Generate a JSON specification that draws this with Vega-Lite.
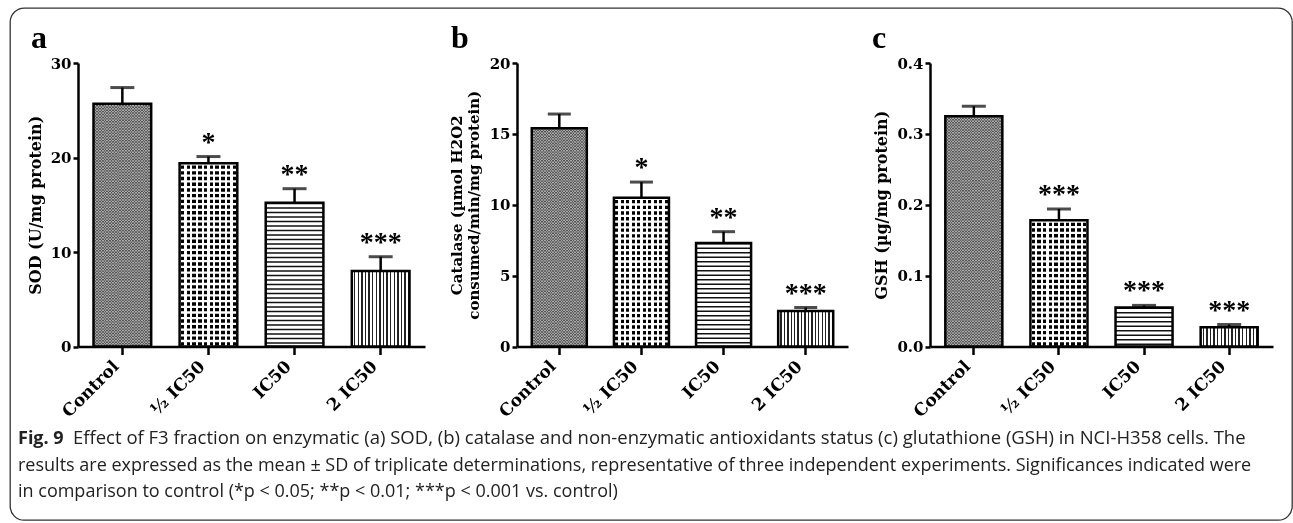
{
  "$schema": "https://vega.github.io/schema/vega-lite/v6.json",
  "width": 1282,
  "height": 512,
  "autosize": {"type": "none"},
  "padding": {"left": 10, "top": 8, "right": 1, "bottom": 3},
  "background": "white",
  "datasets": {
    "bars": [
      {"panel": "a", "grp": "Control", "mean": 25.7, "upper": 27.4, "sig": ""},
      {"panel": "a", "grp": "½ IC50", "mean": 19.4, "upper": 20.1, "sig": "*"},
      {"panel": "a", "grp": "IC50", "mean": 15.2, "upper": 16.7, "sig": "**"},
      {"panel": "a", "grp": "2 IC50", "mean": 8.0, "upper": 9.5, "sig": "***"},
      {"panel": "b", "grp": "Control", "mean": 15.4, "upper": 16.4, "sig": ""},
      {"panel": "b", "grp": "½ IC50", "mean": 10.5, "upper": 11.6, "sig": "*"},
      {"panel": "b", "grp": "IC50", "mean": 7.3, "upper": 8.1, "sig": "**"},
      {"panel": "b", "grp": "2 IC50", "mean": 2.5, "upper": 2.75, "sig": "***"},
      {"panel": "c", "grp": "Control", "mean": 0.325, "upper": 0.339, "sig": ""},
      {"panel": "c", "grp": "½ IC50", "mean": 0.178, "upper": 0.194, "sig": "***"},
      {"panel": "c", "grp": "IC50", "mean": 0.055, "upper": 0.058, "sig": "***"},
      {"panel": "c", "grp": "2 IC50", "mean": 0.027, "upper": 0.031, "sig": "***"}
    ]
  },
  "resolve": {
    "scale": {"x": "independent", "y": "independent"},
    "axis": {"x": "independent", "y": "independent"}
  },
  "layer": [
    {
      "data": {"name": "bars"},
      "transform": [{"filter": "datum.panel === 'a'"}],
      "encoding": {
        "x": {"field": "grp", "type": "nominal", "scale": {"type": "band", "domain": ["Control", "½ IC50", "IC50", "2 IC50"], "range": [68, 415], "paddingInner": 0.33, "paddingOuter": 0.18}, "axis": {"orient": "bottom", "offset": -173.5, "title": null}},
        "y": {"field": "mean", "type": "quantitative", "scale": {"domain": [0, 30], "range": [338.5, 55], "nice": false}, "axis": {"orient": "left", "offset": -68, "values": [0, 10, 20, 30], "title": "SOD (U/mg protein)", "titlePadding": 7}}
      },
      "layer": [
        {"transform": [{"filter": "datum.grp === 'Control'"}], "mark": {"type": "bar", "fill": {"gradient": "linear", "x1": 0, "y1": 0, "x2": 1, "y2": 0, "stops": [
          {"offset": 0, "color": "#555"}, {"offset": 0.025, "color": "#555"}, {"offset": 0.025, "color": "#aaa"}, {"offset": 0.05, "color": "#aaa"},
          {"offset": 0.05, "color": "#555"}, {"offset": 0.075, "color": "#555"}, {"offset": 0.075, "color": "#aaa"}, {"offset": 0.1, "color": "#aaa"},
          {"offset": 0.1, "color": "#555"}, {"offset": 0.125, "color": "#555"}, {"offset": 0.125, "color": "#aaa"}, {"offset": 0.15, "color": "#aaa"},
          {"offset": 0.15, "color": "#555"}, {"offset": 0.175, "color": "#555"}, {"offset": 0.175, "color": "#aaa"}, {"offset": 0.2, "color": "#aaa"},
          {"offset": 0.2, "color": "#555"}, {"offset": 0.225, "color": "#555"}, {"offset": 0.225, "color": "#aaa"}, {"offset": 0.25, "color": "#aaa"},
          {"offset": 0.25, "color": "#555"}, {"offset": 0.275, "color": "#555"}, {"offset": 0.275, "color": "#aaa"}, {"offset": 0.3, "color": "#aaa"},
          {"offset": 0.3, "color": "#555"}, {"offset": 0.325, "color": "#555"}, {"offset": 0.325, "color": "#aaa"}, {"offset": 0.35, "color": "#aaa"},
          {"offset": 0.35, "color": "#555"}, {"offset": 0.375, "color": "#555"}, {"offset": 0.375, "color": "#aaa"}, {"offset": 0.4, "color": "#aaa"},
          {"offset": 0.4, "color": "#555"}, {"offset": 0.425, "color": "#555"}, {"offset": 0.425, "color": "#aaa"}, {"offset": 0.45, "color": "#aaa"},
          {"offset": 0.45, "color": "#555"}, {"offset": 0.475, "color": "#555"}, {"offset": 0.475, "color": "#aaa"}, {"offset": 0.5, "color": "#aaa"},
          {"offset": 0.5, "color": "#555"}, {"offset": 0.525, "color": "#555"}, {"offset": 0.525, "color": "#aaa"}, {"offset": 0.55, "color": "#aaa"},
          {"offset": 0.55, "color": "#555"}, {"offset": 0.575, "color": "#555"}, {"offset": 0.575, "color": "#aaa"}, {"offset": 0.6, "color": "#aaa"},
          {"offset": 0.6, "color": "#555"}, {"offset": 0.625, "color": "#555"}, {"offset": 0.625, "color": "#aaa"}, {"offset": 0.65, "color": "#aaa"},
          {"offset": 0.65, "color": "#555"}, {"offset": 0.675, "color": "#555"}, {"offset": 0.675, "color": "#aaa"}, {"offset": 0.7, "color": "#aaa"},
          {"offset": 0.7, "color": "#555"}, {"offset": 0.725, "color": "#555"}, {"offset": 0.725, "color": "#aaa"}, {"offset": 0.75, "color": "#aaa"},
          {"offset": 0.75, "color": "#555"}, {"offset": 0.775, "color": "#555"}, {"offset": 0.775, "color": "#aaa"}, {"offset": 0.8, "color": "#aaa"},
          {"offset": 0.8, "color": "#555"}, {"offset": 0.825, "color": "#555"}, {"offset": 0.825, "color": "#aaa"}, {"offset": 0.85, "color": "#aaa"},
          {"offset": 0.85, "color": "#555"}, {"offset": 0.875, "color": "#555"}, {"offset": 0.875, "color": "#aaa"}, {"offset": 0.9, "color": "#aaa"},
          {"offset": 0.9, "color": "#555"}, {"offset": 0.925, "color": "#555"}, {"offset": 0.925, "color": "#aaa"}, {"offset": 0.95, "color": "#aaa"},
          {"offset": 0.95, "color": "#555"}, {"offset": 0.975, "color": "#555"}, {"offset": 0.975, "color": "#aaa"}, {"offset": 1, "color": "#aaa"}
        ]}}},
        {"transform": [{"filter": "datum.grp === 'Control'"}], "mark": {"type": "rule", "stroke": "#fff", "strokeWidth": 57, "strokeDash": [1.45, 1.45], "blend": "difference"}, "encoding": {"y2": {"datum": 0}}},
        {"transform": [{"filter": "datum.grp === '½ IC50'"}], "mark": {"type": "bar", "fill": {"gradient": "linear", "x1": 0, "y1": 0, "x2": 1, "y2": 0, "stops": [
          {"offset": 0, "color": "#fff"}, {"offset": 0.02, "color": "#fff"}, {"offset": 0.02, "color": "#000"}, {"offset": 0.08, "color": "#000"},
          {"offset": 0.08, "color": "#fff"}, {"offset": 0.12, "color": "#fff"}, {"offset": 0.12, "color": "#000"}, {"offset": 0.18, "color": "#000"},
          {"offset": 0.18, "color": "#fff"}, {"offset": 0.22, "color": "#fff"}, {"offset": 0.22, "color": "#000"}, {"offset": 0.28, "color": "#000"},
          {"offset": 0.28, "color": "#fff"}, {"offset": 0.32, "color": "#fff"}, {"offset": 0.32, "color": "#000"}, {"offset": 0.38, "color": "#000"},
          {"offset": 0.38, "color": "#fff"}, {"offset": 0.42, "color": "#fff"}, {"offset": 0.42, "color": "#000"}, {"offset": 0.48, "color": "#000"},
          {"offset": 0.48, "color": "#fff"}, {"offset": 0.52, "color": "#fff"}, {"offset": 0.52, "color": "#000"}, {"offset": 0.58, "color": "#000"},
          {"offset": 0.58, "color": "#fff"}, {"offset": 0.62, "color": "#fff"}, {"offset": 0.62, "color": "#000"}, {"offset": 0.68, "color": "#000"},
          {"offset": 0.68, "color": "#fff"}, {"offset": 0.72, "color": "#fff"}, {"offset": 0.72, "color": "#000"}, {"offset": 0.78, "color": "#000"},
          {"offset": 0.78, "color": "#fff"}, {"offset": 0.82, "color": "#fff"}, {"offset": 0.82, "color": "#000"}, {"offset": 0.88, "color": "#000"},
          {"offset": 0.88, "color": "#fff"}, {"offset": 0.92, "color": "#fff"}, {"offset": 0.92, "color": "#000"}, {"offset": 0.98, "color": "#000"},
          {"offset": 0.98, "color": "#fff"}, {"offset": 1, "color": "#fff"}
        ]}}},
        {"transform": [{"filter": "datum.grp === '½ IC50'"}], "mark": {"type": "rule", "stroke": "#fff", "strokeWidth": 57, "strokeDash": [2.3, 3.4]}, "encoding": {"y2": {"datum": 0}}},
        {"transform": [{"filter": "datum.grp === 'IC50'"}], "mark": {"type": "rule", "stroke": "#111", "strokeWidth": 57, "strokeDash": [1.5, 3]}, "encoding": {"y2": {"datum": 0}}},
        {"transform": [{"filter": "datum.grp === '2 IC50'"}], "mark": {"type": "bar", "fill": {"gradient": "linear", "x1": 0, "y1": 0, "x2": 1, "y2": 0, "stops": [
          {"offset": 0, "color": "#fff"}, {"offset": 0.0375, "color": "#fff"}, {"offset": 0.0375, "color": "#222"}, {"offset": 0.0625, "color": "#222"},
          {"offset": 0.0625, "color": "#fff"}, {"offset": 0.1, "color": "#fff"}, {"offset": 0.1, "color": "#222"}, {"offset": 0.125, "color": "#222"},
          {"offset": 0.125, "color": "#fff"}, {"offset": 0.1625, "color": "#fff"}, {"offset": 0.1625, "color": "#222"}, {"offset": 0.1875, "color": "#222"},
          {"offset": 0.1875, "color": "#fff"}, {"offset": 0.225, "color": "#fff"}, {"offset": 0.225, "color": "#222"}, {"offset": 0.25, "color": "#222"},
          {"offset": 0.25, "color": "#fff"}, {"offset": 0.2875, "color": "#fff"}, {"offset": 0.2875, "color": "#222"}, {"offset": 0.3125, "color": "#222"},
          {"offset": 0.3125, "color": "#fff"}, {"offset": 0.35, "color": "#fff"}, {"offset": 0.35, "color": "#222"}, {"offset": 0.375, "color": "#222"},
          {"offset": 0.375, "color": "#fff"}, {"offset": 0.4125, "color": "#fff"}, {"offset": 0.4125, "color": "#222"}, {"offset": 0.4375, "color": "#222"},
          {"offset": 0.4375, "color": "#fff"}, {"offset": 0.475, "color": "#fff"}, {"offset": 0.475, "color": "#222"}, {"offset": 0.5, "color": "#222"},
          {"offset": 0.5, "color": "#fff"}, {"offset": 0.5375, "color": "#fff"}, {"offset": 0.5375, "color": "#222"}, {"offset": 0.5625, "color": "#222"},
          {"offset": 0.5625, "color": "#fff"}, {"offset": 0.6, "color": "#fff"}, {"offset": 0.6, "color": "#222"}, {"offset": 0.625, "color": "#222"},
          {"offset": 0.625, "color": "#fff"}, {"offset": 0.6625, "color": "#fff"}, {"offset": 0.6625, "color": "#222"}, {"offset": 0.6875, "color": "#222"},
          {"offset": 0.6875, "color": "#fff"}, {"offset": 0.725, "color": "#fff"}, {"offset": 0.725, "color": "#222"}, {"offset": 0.75, "color": "#222"},
          {"offset": 0.75, "color": "#fff"}, {"offset": 0.7875, "color": "#fff"}, {"offset": 0.7875, "color": "#222"}, {"offset": 0.8125, "color": "#222"},
          {"offset": 0.8125, "color": "#fff"}, {"offset": 0.85, "color": "#fff"}, {"offset": 0.85, "color": "#222"}, {"offset": 0.875, "color": "#222"},
          {"offset": 0.875, "color": "#fff"}, {"offset": 0.9125, "color": "#fff"}, {"offset": 0.9125, "color": "#222"}, {"offset": 0.9375, "color": "#222"},
          {"offset": 0.9375, "color": "#fff"}, {"offset": 0.975, "color": "#fff"}, {"offset": 0.975, "color": "#222"}, {"offset": 1, "color": "#222"}
        ]}}},
        {"mark": {"type": "bar", "filled": false, "stroke": "#000", "strokeWidth": 2.5}},
        {"mark": {"type": "rule", "stroke": "#000", "strokeWidth": 2.5}, "encoding": {"y2": {"field": "upper"}}},
        {"mark": {"type": "tick", "color": "#000", "size": 24, "thickness": 3}, "encoding": {"y": {"field": "upper", "type": "quantitative", "axis": {"orient": "left", "offset": -68, "values": [0, 10, 20, 30], "title": "SOD (U/mg protein)", "titlePadding": 7}}}},
        {"mark": {"type": "text", "font": "Liberation Serif", "fontWeight": "bold", "fontSize": 28, "baseline": "alphabetic", "dy": -6, "color": "#000"}, "encoding": {"y": {"field": "upper", "type": "quantitative", "axis": {"orient": "left", "offset": -68, "values": [0, 10, 20, 30], "title": "SOD (U/mg protein)", "titlePadding": 7}}, "text": {"field": "sig"}}}
      ]
    },
    {
      "data": {"name": "bars"},
      "transform": [{"filter": "datum.panel === 'b'"}],
      "encoding": {
        "x": {"field": "grp", "type": "nominal", "scale": {"type": "band", "domain": ["Control", "½ IC50", "IC50", "2 IC50"], "range": [507, 838], "paddingInner": 0.33, "paddingOuter": 0.18}, "axis": {"orient": "bottom", "offset": -173.5, "title": null}},
        "y": {"field": "mean", "type": "quantitative", "scale": {"domain": [0, 20], "range": [338.5, 55], "nice": false}, "axis": {"orient": "left", "offset": -507, "values": [0, 5, 10, 15, 20], "title": ["Catalase (µmol H2O2", "consumed/min/mg protein)"], "titlePadding": 8, "titleLineHeight": 17, "titleFontSize": 15}}
      },
      "layer": [
        {"transform": [{"filter": "datum.grp === 'Control'"}], "mark": {"type": "bar", "fill": {"gradient": "linear", "x1": 0, "y1": 0, "x2": 1, "y2": 0, "stops": [
          {"offset": 0, "color": "#555"}, {"offset": 0.025, "color": "#555"}, {"offset": 0.025, "color": "#aaa"}, {"offset": 0.05, "color": "#aaa"},
          {"offset": 0.05, "color": "#555"}, {"offset": 0.075, "color": "#555"}, {"offset": 0.075, "color": "#aaa"}, {"offset": 0.1, "color": "#aaa"},
          {"offset": 0.1, "color": "#555"}, {"offset": 0.125, "color": "#555"}, {"offset": 0.125, "color": "#aaa"}, {"offset": 0.15, "color": "#aaa"},
          {"offset": 0.15, "color": "#555"}, {"offset": 0.175, "color": "#555"}, {"offset": 0.175, "color": "#aaa"}, {"offset": 0.2, "color": "#aaa"},
          {"offset": 0.2, "color": "#555"}, {"offset": 0.225, "color": "#555"}, {"offset": 0.225, "color": "#aaa"}, {"offset": 0.25, "color": "#aaa"},
          {"offset": 0.25, "color": "#555"}, {"offset": 0.275, "color": "#555"}, {"offset": 0.275, "color": "#aaa"}, {"offset": 0.3, "color": "#aaa"},
          {"offset": 0.3, "color": "#555"}, {"offset": 0.325, "color": "#555"}, {"offset": 0.325, "color": "#aaa"}, {"offset": 0.35, "color": "#aaa"},
          {"offset": 0.35, "color": "#555"}, {"offset": 0.375, "color": "#555"}, {"offset": 0.375, "color": "#aaa"}, {"offset": 0.4, "color": "#aaa"},
          {"offset": 0.4, "color": "#555"}, {"offset": 0.425, "color": "#555"}, {"offset": 0.425, "color": "#aaa"}, {"offset": 0.45, "color": "#aaa"},
          {"offset": 0.45, "color": "#555"}, {"offset": 0.475, "color": "#555"}, {"offset": 0.475, "color": "#aaa"}, {"offset": 0.5, "color": "#aaa"},
          {"offset": 0.5, "color": "#555"}, {"offset": 0.525, "color": "#555"}, {"offset": 0.525, "color": "#aaa"}, {"offset": 0.55, "color": "#aaa"},
          {"offset": 0.55, "color": "#555"}, {"offset": 0.575, "color": "#555"}, {"offset": 0.575, "color": "#aaa"}, {"offset": 0.6, "color": "#aaa"},
          {"offset": 0.6, "color": "#555"}, {"offset": 0.625, "color": "#555"}, {"offset": 0.625, "color": "#aaa"}, {"offset": 0.65, "color": "#aaa"},
          {"offset": 0.65, "color": "#555"}, {"offset": 0.675, "color": "#555"}, {"offset": 0.675, "color": "#aaa"}, {"offset": 0.7, "color": "#aaa"},
          {"offset": 0.7, "color": "#555"}, {"offset": 0.725, "color": "#555"}, {"offset": 0.725, "color": "#aaa"}, {"offset": 0.75, "color": "#aaa"},
          {"offset": 0.75, "color": "#555"}, {"offset": 0.775, "color": "#555"}, {"offset": 0.775, "color": "#aaa"}, {"offset": 0.8, "color": "#aaa"},
          {"offset": 0.8, "color": "#555"}, {"offset": 0.825, "color": "#555"}, {"offset": 0.825, "color": "#aaa"}, {"offset": 0.85, "color": "#aaa"},
          {"offset": 0.85, "color": "#555"}, {"offset": 0.875, "color": "#555"}, {"offset": 0.875, "color": "#aaa"}, {"offset": 0.9, "color": "#aaa"},
          {"offset": 0.9, "color": "#555"}, {"offset": 0.925, "color": "#555"}, {"offset": 0.925, "color": "#aaa"}, {"offset": 0.95, "color": "#aaa"},
          {"offset": 0.95, "color": "#555"}, {"offset": 0.975, "color": "#555"}, {"offset": 0.975, "color": "#aaa"}, {"offset": 1, "color": "#aaa"}
        ]}}},
        {"transform": [{"filter": "datum.grp === 'Control'"}], "mark": {"type": "rule", "stroke": "#fff", "strokeWidth": 54, "strokeDash": [1.45, 1.45], "blend": "difference"}, "encoding": {"y2": {"datum": 0}}},
        {"transform": [{"filter": "datum.grp === '½ IC50'"}], "mark": {"type": "bar", "fill": {"gradient": "linear", "x1": 0, "y1": 0, "x2": 1, "y2": 0, "stops": [
          {"offset": 0, "color": "#fff"}, {"offset": 0.02, "color": "#fff"}, {"offset": 0.02, "color": "#000"}, {"offset": 0.08, "color": "#000"},
          {"offset": 0.08, "color": "#fff"}, {"offset": 0.12, "color": "#fff"}, {"offset": 0.12, "color": "#000"}, {"offset": 0.18, "color": "#000"},
          {"offset": 0.18, "color": "#fff"}, {"offset": 0.22, "color": "#fff"}, {"offset": 0.22, "color": "#000"}, {"offset": 0.28, "color": "#000"},
          {"offset": 0.28, "color": "#fff"}, {"offset": 0.32, "color": "#fff"}, {"offset": 0.32, "color": "#000"}, {"offset": 0.38, "color": "#000"},
          {"offset": 0.38, "color": "#fff"}, {"offset": 0.42, "color": "#fff"}, {"offset": 0.42, "color": "#000"}, {"offset": 0.48, "color": "#000"},
          {"offset": 0.48, "color": "#fff"}, {"offset": 0.52, "color": "#fff"}, {"offset": 0.52, "color": "#000"}, {"offset": 0.58, "color": "#000"},
          {"offset": 0.58, "color": "#fff"}, {"offset": 0.62, "color": "#fff"}, {"offset": 0.62, "color": "#000"}, {"offset": 0.68, "color": "#000"},
          {"offset": 0.68, "color": "#fff"}, {"offset": 0.72, "color": "#fff"}, {"offset": 0.72, "color": "#000"}, {"offset": 0.78, "color": "#000"},
          {"offset": 0.78, "color": "#fff"}, {"offset": 0.82, "color": "#fff"}, {"offset": 0.82, "color": "#000"}, {"offset": 0.88, "color": "#000"},
          {"offset": 0.88, "color": "#fff"}, {"offset": 0.92, "color": "#fff"}, {"offset": 0.92, "color": "#000"}, {"offset": 0.98, "color": "#000"},
          {"offset": 0.98, "color": "#fff"}, {"offset": 1, "color": "#fff"}
        ]}}},
        {"transform": [{"filter": "datum.grp === '½ IC50'"}], "mark": {"type": "rule", "stroke": "#fff", "strokeWidth": 54, "strokeDash": [2.3, 3.4]}, "encoding": {"y2": {"datum": 0}}},
        {"transform": [{"filter": "datum.grp === 'IC50'"}], "mark": {"type": "rule", "stroke": "#111", "strokeWidth": 54, "strokeDash": [1.5, 3]}, "encoding": {"y2": {"datum": 0}}},
        {"transform": [{"filter": "datum.grp === '2 IC50'"}], "mark": {"type": "bar", "fill": {"gradient": "linear", "x1": 0, "y1": 0, "x2": 1, "y2": 0, "stops": [
          {"offset": 0, "color": "#fff"}, {"offset": 0.0375, "color": "#fff"}, {"offset": 0.0375, "color": "#222"}, {"offset": 0.0625, "color": "#222"},
          {"offset": 0.0625, "color": "#fff"}, {"offset": 0.1, "color": "#fff"}, {"offset": 0.1, "color": "#222"}, {"offset": 0.125, "color": "#222"},
          {"offset": 0.125, "color": "#fff"}, {"offset": 0.1625, "color": "#fff"}, {"offset": 0.1625, "color": "#222"}, {"offset": 0.1875, "color": "#222"},
          {"offset": 0.1875, "color": "#fff"}, {"offset": 0.225, "color": "#fff"}, {"offset": 0.225, "color": "#222"}, {"offset": 0.25, "color": "#222"},
          {"offset": 0.25, "color": "#fff"}, {"offset": 0.2875, "color": "#fff"}, {"offset": 0.2875, "color": "#222"}, {"offset": 0.3125, "color": "#222"},
          {"offset": 0.3125, "color": "#fff"}, {"offset": 0.35, "color": "#fff"}, {"offset": 0.35, "color": "#222"}, {"offset": 0.375, "color": "#222"},
          {"offset": 0.375, "color": "#fff"}, {"offset": 0.4125, "color": "#fff"}, {"offset": 0.4125, "color": "#222"}, {"offset": 0.4375, "color": "#222"},
          {"offset": 0.4375, "color": "#fff"}, {"offset": 0.475, "color": "#fff"}, {"offset": 0.475, "color": "#222"}, {"offset": 0.5, "color": "#222"},
          {"offset": 0.5, "color": "#fff"}, {"offset": 0.5375, "color": "#fff"}, {"offset": 0.5375, "color": "#222"}, {"offset": 0.5625, "color": "#222"},
          {"offset": 0.5625, "color": "#fff"}, {"offset": 0.6, "color": "#fff"}, {"offset": 0.6, "color": "#222"}, {"offset": 0.625, "color": "#222"},
          {"offset": 0.625, "color": "#fff"}, {"offset": 0.6625, "color": "#fff"}, {"offset": 0.6625, "color": "#222"}, {"offset": 0.6875, "color": "#222"},
          {"offset": 0.6875, "color": "#fff"}, {"offset": 0.725, "color": "#fff"}, {"offset": 0.725, "color": "#222"}, {"offset": 0.75, "color": "#222"},
          {"offset": 0.75, "color": "#fff"}, {"offset": 0.7875, "color": "#fff"}, {"offset": 0.7875, "color": "#222"}, {"offset": 0.8125, "color": "#222"},
          {"offset": 0.8125, "color": "#fff"}, {"offset": 0.85, "color": "#fff"}, {"offset": 0.85, "color": "#222"}, {"offset": 0.875, "color": "#222"},
          {"offset": 0.875, "color": "#fff"}, {"offset": 0.9125, "color": "#fff"}, {"offset": 0.9125, "color": "#222"}, {"offset": 0.9375, "color": "#222"},
          {"offset": 0.9375, "color": "#fff"}, {"offset": 0.975, "color": "#fff"}, {"offset": 0.975, "color": "#222"}, {"offset": 1, "color": "#222"}
        ]}}},
        {"mark": {"type": "bar", "filled": false, "stroke": "#000", "strokeWidth": 2.5}},
        {"mark": {"type": "rule", "stroke": "#000", "strokeWidth": 2.5}, "encoding": {"y2": {"field": "upper"}}},
        {"mark": {"type": "tick", "color": "#000", "size": 23, "thickness": 3}, "encoding": {"y": {"field": "upper", "type": "quantitative", "axis": {"orient": "left", "offset": -507, "values": [0, 5, 10, 15, 20], "title": ["Catalase (µmol H2O2", "consumed/min/mg protein)"], "titlePadding": 8, "titleLineHeight": 17, "titleFontSize": 15}}}},
        {"mark": {"type": "text", "font": "Liberation Serif", "fontWeight": "bold", "fontSize": 28, "baseline": "alphabetic", "dy": -6, "color": "#000"}, "encoding": {"y": {"field": "upper", "type": "quantitative", "axis": {"orient": "left", "offset": -507, "values": [0, 5, 10, 15, 20], "title": ["Catalase (µmol H2O2", "consumed/min/mg protein)"], "titlePadding": 8, "titleLineHeight": 17, "titleFontSize": 15}}, "text": {"field": "sig"}}}
      ]
    },
    {
      "data": {"name": "bars"},
      "transform": [{"filter": "datum.panel === 'c'"}],
      "encoding": {
        "x": {"field": "grp", "type": "nominal", "scale": {"type": "band", "domain": ["Control", "½ IC50", "IC50", "2 IC50"], "range": [920, 1263], "paddingInner": 0.33, "paddingOuter": 0.18}, "axis": {"orient": "bottom", "offset": -173.5, "title": null}},
        "y": {"field": "mean", "type": "quantitative", "scale": {"domain": [0, 0.4], "range": [338.5, 55], "nice": false}, "axis": {"orient": "left", "offset": -920, "values": [0, 0.1, 0.2, 0.3, 0.4], "format": ".1f", "title": "GSH (µg/mg protein)", "titlePadding": 7}}
      },
      "layer": [
        {"transform": [{"filter": "datum.grp === 'Control'"}], "mark": {"type": "bar", "fill": {"gradient": "linear", "x1": 0, "y1": 0, "x2": 1, "y2": 0, "stops": [
          {"offset": 0, "color": "#555"}, {"offset": 0.025, "color": "#555"}, {"offset": 0.025, "color": "#aaa"}, {"offset": 0.05, "color": "#aaa"},
          {"offset": 0.05, "color": "#555"}, {"offset": 0.075, "color": "#555"}, {"offset": 0.075, "color": "#aaa"}, {"offset": 0.1, "color": "#aaa"},
          {"offset": 0.1, "color": "#555"}, {"offset": 0.125, "color": "#555"}, {"offset": 0.125, "color": "#aaa"}, {"offset": 0.15, "color": "#aaa"},
          {"offset": 0.15, "color": "#555"}, {"offset": 0.175, "color": "#555"}, {"offset": 0.175, "color": "#aaa"}, {"offset": 0.2, "color": "#aaa"},
          {"offset": 0.2, "color": "#555"}, {"offset": 0.225, "color": "#555"}, {"offset": 0.225, "color": "#aaa"}, {"offset": 0.25, "color": "#aaa"},
          {"offset": 0.25, "color": "#555"}, {"offset": 0.275, "color": "#555"}, {"offset": 0.275, "color": "#aaa"}, {"offset": 0.3, "color": "#aaa"},
          {"offset": 0.3, "color": "#555"}, {"offset": 0.325, "color": "#555"}, {"offset": 0.325, "color": "#aaa"}, {"offset": 0.35, "color": "#aaa"},
          {"offset": 0.35, "color": "#555"}, {"offset": 0.375, "color": "#555"}, {"offset": 0.375, "color": "#aaa"}, {"offset": 0.4, "color": "#aaa"},
          {"offset": 0.4, "color": "#555"}, {"offset": 0.425, "color": "#555"}, {"offset": 0.425, "color": "#aaa"}, {"offset": 0.45, "color": "#aaa"},
          {"offset": 0.45, "color": "#555"}, {"offset": 0.475, "color": "#555"}, {"offset": 0.475, "color": "#aaa"}, {"offset": 0.5, "color": "#aaa"},
          {"offset": 0.5, "color": "#555"}, {"offset": 0.525, "color": "#555"}, {"offset": 0.525, "color": "#aaa"}, {"offset": 0.55, "color": "#aaa"},
          {"offset": 0.55, "color": "#555"}, {"offset": 0.575, "color": "#555"}, {"offset": 0.575, "color": "#aaa"}, {"offset": 0.6, "color": "#aaa"},
          {"offset": 0.6, "color": "#555"}, {"offset": 0.625, "color": "#555"}, {"offset": 0.625, "color": "#aaa"}, {"offset": 0.65, "color": "#aaa"},
          {"offset": 0.65, "color": "#555"}, {"offset": 0.675, "color": "#555"}, {"offset": 0.675, "color": "#aaa"}, {"offset": 0.7, "color": "#aaa"},
          {"offset": 0.7, "color": "#555"}, {"offset": 0.725, "color": "#555"}, {"offset": 0.725, "color": "#aaa"}, {"offset": 0.75, "color": "#aaa"},
          {"offset": 0.75, "color": "#555"}, {"offset": 0.775, "color": "#555"}, {"offset": 0.775, "color": "#aaa"}, {"offset": 0.8, "color": "#aaa"},
          {"offset": 0.8, "color": "#555"}, {"offset": 0.825, "color": "#555"}, {"offset": 0.825, "color": "#aaa"}, {"offset": 0.85, "color": "#aaa"},
          {"offset": 0.85, "color": "#555"}, {"offset": 0.875, "color": "#555"}, {"offset": 0.875, "color": "#aaa"}, {"offset": 0.9, "color": "#aaa"},
          {"offset": 0.9, "color": "#555"}, {"offset": 0.925, "color": "#555"}, {"offset": 0.925, "color": "#aaa"}, {"offset": 0.95, "color": "#aaa"},
          {"offset": 0.95, "color": "#555"}, {"offset": 0.975, "color": "#555"}, {"offset": 0.975, "color": "#aaa"}, {"offset": 1, "color": "#aaa"}
        ]}}},
        {"transform": [{"filter": "datum.grp === 'Control'"}], "mark": {"type": "rule", "stroke": "#fff", "strokeWidth": 56.5, "strokeDash": [1.45, 1.45], "blend": "difference"}, "encoding": {"y2": {"datum": 0}}},
        {"transform": [{"filter": "datum.grp === '½ IC50'"}], "mark": {"type": "bar", "fill": {"gradient": "linear", "x1": 0, "y1": 0, "x2": 1, "y2": 0, "stops": [
          {"offset": 0, "color": "#fff"}, {"offset": 0.02, "color": "#fff"}, {"offset": 0.02, "color": "#000"}, {"offset": 0.08, "color": "#000"},
          {"offset": 0.08, "color": "#fff"}, {"offset": 0.12, "color": "#fff"}, {"offset": 0.12, "color": "#000"}, {"offset": 0.18, "color": "#000"},
          {"offset": 0.18, "color": "#fff"}, {"offset": 0.22, "color": "#fff"}, {"offset": 0.22, "color": "#000"}, {"offset": 0.28, "color": "#000"},
          {"offset": 0.28, "color": "#fff"}, {"offset": 0.32, "color": "#fff"}, {"offset": 0.32, "color": "#000"}, {"offset": 0.38, "color": "#000"},
          {"offset": 0.38, "color": "#fff"}, {"offset": 0.42, "color": "#fff"}, {"offset": 0.42, "color": "#000"}, {"offset": 0.48, "color": "#000"},
          {"offset": 0.48, "color": "#fff"}, {"offset": 0.52, "color": "#fff"}, {"offset": 0.52, "color": "#000"}, {"offset": 0.58, "color": "#000"},
          {"offset": 0.58, "color": "#fff"}, {"offset": 0.62, "color": "#fff"}, {"offset": 0.62, "color": "#000"}, {"offset": 0.68, "color": "#000"},
          {"offset": 0.68, "color": "#fff"}, {"offset": 0.72, "color": "#fff"}, {"offset": 0.72, "color": "#000"}, {"offset": 0.78, "color": "#000"},
          {"offset": 0.78, "color": "#fff"}, {"offset": 0.82, "color": "#fff"}, {"offset": 0.82, "color": "#000"}, {"offset": 0.88, "color": "#000"},
          {"offset": 0.88, "color": "#fff"}, {"offset": 0.92, "color": "#fff"}, {"offset": 0.92, "color": "#000"}, {"offset": 0.98, "color": "#000"},
          {"offset": 0.98, "color": "#fff"}, {"offset": 1, "color": "#fff"}
        ]}}},
        {"transform": [{"filter": "datum.grp === '½ IC50'"}], "mark": {"type": "rule", "stroke": "#fff", "strokeWidth": 56.5, "strokeDash": [2.3, 3.4]}, "encoding": {"y2": {"datum": 0}}},
        {"transform": [{"filter": "datum.grp === 'IC50'"}], "mark": {"type": "rule", "stroke": "#111", "strokeWidth": 56.5, "strokeDash": [1.5, 3]}, "encoding": {"y2": {"datum": 0}}},
        {"transform": [{"filter": "datum.grp === '2 IC50'"}], "mark": {"type": "bar", "fill": {"gradient": "linear", "x1": 0, "y1": 0, "x2": 1, "y2": 0, "stops": [
          {"offset": 0, "color": "#fff"}, {"offset": 0.0375, "color": "#fff"}, {"offset": 0.0375, "color": "#222"}, {"offset": 0.0625, "color": "#222"},
          {"offset": 0.0625, "color": "#fff"}, {"offset": 0.1, "color": "#fff"}, {"offset": 0.1, "color": "#222"}, {"offset": 0.125, "color": "#222"},
          {"offset": 0.125, "color": "#fff"}, {"offset": 0.1625, "color": "#fff"}, {"offset": 0.1625, "color": "#222"}, {"offset": 0.1875, "color": "#222"},
          {"offset": 0.1875, "color": "#fff"}, {"offset": 0.225, "color": "#fff"}, {"offset": 0.225, "color": "#222"}, {"offset": 0.25, "color": "#222"},
          {"offset": 0.25, "color": "#fff"}, {"offset": 0.2875, "color": "#fff"}, {"offset": 0.2875, "color": "#222"}, {"offset": 0.3125, "color": "#222"},
          {"offset": 0.3125, "color": "#fff"}, {"offset": 0.35, "color": "#fff"}, {"offset": 0.35, "color": "#222"}, {"offset": 0.375, "color": "#222"},
          {"offset": 0.375, "color": "#fff"}, {"offset": 0.4125, "color": "#fff"}, {"offset": 0.4125, "color": "#222"}, {"offset": 0.4375, "color": "#222"},
          {"offset": 0.4375, "color": "#fff"}, {"offset": 0.475, "color": "#fff"}, {"offset": 0.475, "color": "#222"}, {"offset": 0.5, "color": "#222"},
          {"offset": 0.5, "color": "#fff"}, {"offset": 0.5375, "color": "#fff"}, {"offset": 0.5375, "color": "#222"}, {"offset": 0.5625, "color": "#222"},
          {"offset": 0.5625, "color": "#fff"}, {"offset": 0.6, "color": "#fff"}, {"offset": 0.6, "color": "#222"}, {"offset": 0.625, "color": "#222"},
          {"offset": 0.625, "color": "#fff"}, {"offset": 0.6625, "color": "#fff"}, {"offset": 0.6625, "color": "#222"}, {"offset": 0.6875, "color": "#222"},
          {"offset": 0.6875, "color": "#fff"}, {"offset": 0.725, "color": "#fff"}, {"offset": 0.725, "color": "#222"}, {"offset": 0.75, "color": "#222"},
          {"offset": 0.75, "color": "#fff"}, {"offset": 0.7875, "color": "#fff"}, {"offset": 0.7875, "color": "#222"}, {"offset": 0.8125, "color": "#222"},
          {"offset": 0.8125, "color": "#fff"}, {"offset": 0.85, "color": "#fff"}, {"offset": 0.85, "color": "#222"}, {"offset": 0.875, "color": "#222"},
          {"offset": 0.875, "color": "#fff"}, {"offset": 0.9125, "color": "#fff"}, {"offset": 0.9125, "color": "#222"}, {"offset": 0.9375, "color": "#222"},
          {"offset": 0.9375, "color": "#fff"}, {"offset": 0.975, "color": "#fff"}, {"offset": 0.975, "color": "#222"}, {"offset": 1, "color": "#222"}
        ]}}},
        {"mark": {"type": "bar", "filled": false, "stroke": "#000", "strokeWidth": 2.5}},
        {"mark": {"type": "rule", "stroke": "#000", "strokeWidth": 2.5}, "encoding": {"y2": {"field": "upper"}}},
        {"mark": {"type": "tick", "color": "#000", "size": 24, "thickness": 3}, "encoding": {"y": {"field": "upper", "type": "quantitative", "axis": {"orient": "left", "offset": -920, "values": [0, 0.1, 0.2, 0.3, 0.4], "format": ".1f", "title": "GSH (µg/mg protein)", "titlePadding": 7}}}},
        {"mark": {"type": "text", "font": "Liberation Serif", "fontWeight": "bold", "fontSize": 28, "baseline": "alphabetic", "dy": -6, "color": "#000"}, "encoding": {"y": {"field": "upper", "type": "quantitative", "axis": {"orient": "left", "offset": -920, "values": [0, 0.1, 0.2, 0.3, 0.4], "format": ".1f", "title": "GSH (µg/mg protein)", "titlePadding": 7}}, "text": {"field": "sig"}}}
      ]
    },
    {
      "data": {"values": [{"t": "a"}]},
      "mark": {"type": "text", "font": "Liberation Serif", "fontWeight": "bold", "fontSize": 32, "align": "left", "baseline": "alphabetic", "color": "#000"},
      "encoding": {"text": {"field": "t"}, "x": {"value": 21}, "y": {"value": 40}}
    },
    {
      "data": {"values": [{"t": "b"}]},
      "mark": {"type": "text", "font": "Liberation Serif", "fontWeight": "bold", "fontSize": 32, "align": "left", "baseline": "alphabetic", "color": "#000"},
      "encoding": {"text": {"field": "t"}, "x": {"value": 441}, "y": {"value": 40}}
    },
    {
      "data": {"values": [{"t": "c"}]},
      "mark": {"type": "text", "font": "Liberation Serif", "fontWeight": "bold", "fontSize": 32, "align": "left", "baseline": "alphabetic", "color": "#000"},
      "encoding": {"text": {"field": "t"}, "x": {"value": 862}, "y": {"value": 40}}
    },
    {
      "data": {"values": [{"t": "Fig. 9"}]},
      "mark": {"type": "text", "font": "Open Sans", "fontWeight": "bold", "fontSize": 18, "align": "left", "baseline": "alphabetic", "color": "#222"},
      "encoding": {"text": {"field": "t"}, "x": {"value": 8}, "y": {"value": 436}}
    },
    {
      "data": {"values": [{"t": "Effect of F3 fraction on enzymatic (a) SOD, (b) catalase and non-enzymatic antioxidants status (c) glutathione (GSH) in NCI-H358 cells. The"}]},
      "mark": {"type": "text", "font": "Open Sans", "fontSize": 18.5, "align": "left", "baseline": "alphabetic", "color": "#222"},
      "encoding": {"text": {"field": "t"}, "x": {"value": 63}, "y": {"value": 436}}
    },
    {
      "data": {"values": [
        {"line": 2, "t": "results are expressed as the mean ± SD of triplicate determinations, representative of three independent experiments. Significances indicated were"},
        {"line": 3, "t": "in comparison to control (*p < 0.05; **p < 0.01; ***p < 0.001 vs. control)"}
      ]},
      "mark": {"type": "text", "font": "Open Sans", "fontSize": 18, "align": "left", "baseline": "alphabetic", "color": "#222"},
      "encoding": {
        "text": {"field": "t"},
        "x": {"value": 8},
        "y": {"field": "line", "type": "ordinal", "scale": {"type": "point", "range": [462.5, 489], "padding": 0}, "axis": null}
      }
    }
  ],
  "config": {
    "view": {"stroke": "#333", "strokeWidth": 1.3, "cornerRadius": 14, "fill": "white"},
    "axis": {"domainColor": "#000", "domainWidth": 2.5, "tickColor": "#000", "tickWidth": 2.5, "labelColor": "#000", "labelFont": "DejaVu Serif", "labelFontWeight": "bold", "labelFontSize": 15, "titleColor": "#000", "titleFont": "DejaVu Serif", "titleFontWeight": "bold", "titleFontSize": 16, "grid": false, "labelPadding": 2},
    "axisX": {"tickSize": 8, "labelAngle": -45, "labelPadding": 9, "labelOffset": -6, "labelFontSize": 17, "labelBaseline": "middle"},
    "axisY": {"tickSize": 5}
  }
}
